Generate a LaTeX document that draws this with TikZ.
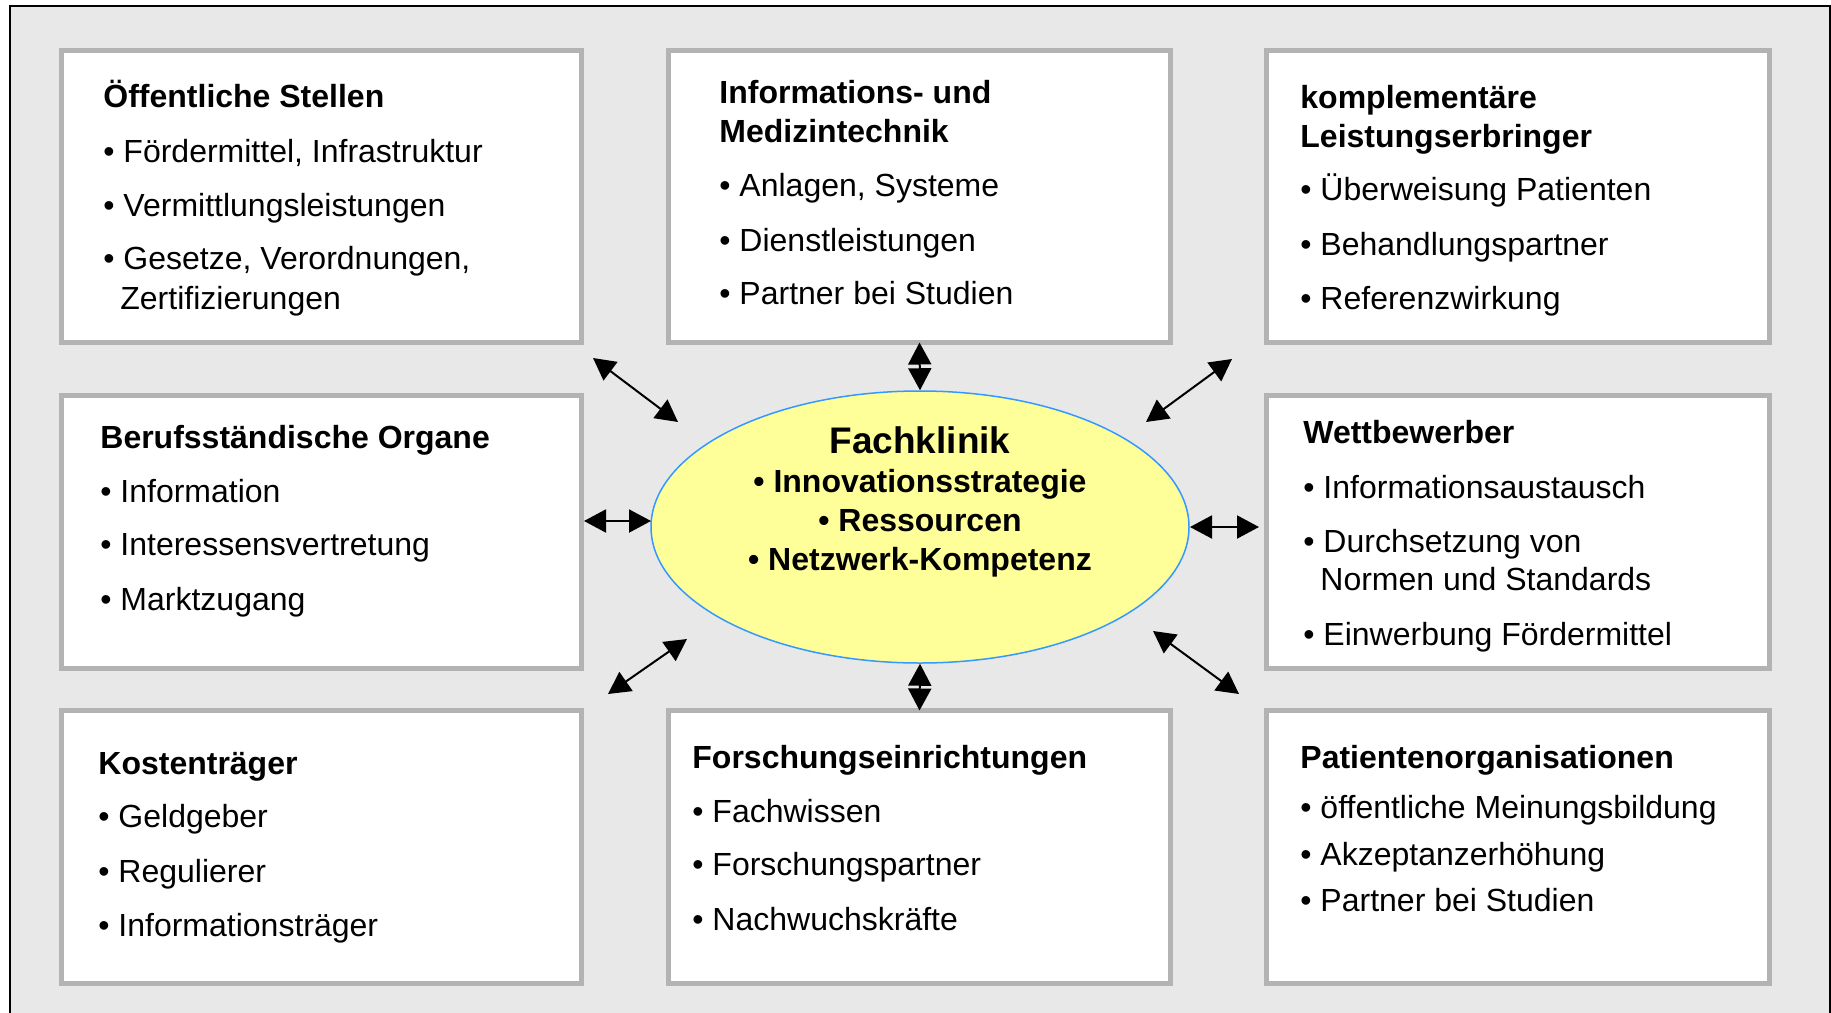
\documentclass[tikz,border=0pt]{standalone}
\usepackage{fontspec}
\setmainfont{Liberation Sans}
\usetikzlibrary{arrows.meta,shapes.geometric}
\definecolor{panel}{HTML}{E8E8E8}
\definecolor{boxrim}{HTML}{B3B3B3}
\definecolor{core}{HTML}{FFFF99}
\definecolor{corerim}{HTML}{3399FF}

\begin{document}
\begin{tikzpicture}[x=0.5pt,y=-0.5pt,
  panelbox/.style={rectangle, draw=boxrim, line width=2.5pt, fill=white, inner sep=0pt, outer sep=0pt},
  colL/.style={minimum width=260pt},
  colM/.style={minimum width=251pt},
  colR/.style={minimum width=251.5pt},
  rowT/.style={minimum height=146pt},
  rowO/.style={minimum height=136.5pt},
  head/.style={anchor=base west, inner sep=0pt, font=\bfseries\fontsize{16}{19}\selectfont},
  item/.style={anchor=base west, inner sep=0pt, font=\fontsize{16}{19}\selectfont},
  corehead/.style={anchor=base, inner sep=0pt, font=\bfseries\fontsize{18.5}{22}\selectfont},
  coreitem/.style={anchor=base, inner sep=0pt, font=\bfseries\fontsize{16}{19}\selectfont},
  link/.style={line width=1pt, {Triangle[length=11pt,width=11.5pt]}-{Triangle[length=11pt,width=11.5pt]}},
]
\useasboundingbox (0,0) rectangle (1831,1012);
\clip (0,0) rectangle (1831,1012);
\fill[white] (0,0) rectangle (1831,1012);
% outer panel
\draw[line width=1pt, fill=panel] (10,6) rectangle (1830,1040);

% partner boxes
\node[panelbox, colL, rowT] (oeff)  at (321.5,196.5) {};
\node[panelbox, colM, rowT] (tech)  at (919.5,196.5) {};
\node[panelbox, colR, rowT] (kompl) at (1518,196.5) {};
\node[panelbox, colL, rowO] (beruf) at (321.5,532) {};
\node[panelbox, colR, rowO] (wett)  at (1518,532) {};
\node[panelbox, colL, rowO] (kost)  at (321.5,847) {};
\node[panelbox, colM, rowO] (forsch) at (919.5,847) {};
\node[panelbox, colR, rowO] (pat)   at (1518,847) {};

% central clinic
\node[ellipse, draw=corerim, line width=0.75pt, fill=core, minimum width=269pt, minimum height=136pt, inner sep=0pt] (klinik) at (920,527) {};
\node[corehead] (k0) at (920,453) {Fachklinik};
\node[coreitem] (k1) at (920,492) {• Innovationsstrategie};
\node[coreitem] (k2) at (920,531) {• Ressourcen};
\node[coreitem] (k3) at (920,570) {• Netzwerk-Kompetenz};

% Öffentliche Stellen
\node[head] (oeff-h) at (103,107) {Öffentliche Stellen};
\node[item] (oeff-1) at (103,162) {• Fördermittel, Infrastruktur};
\node[item] (oeff-2) at (103,216) {• Vermittlungsleistungen};
\node[item] (oeff-3) at (103,269) {• Gesetze, Verordnungen,};
\node[item] (oeff-4) at (103,309) {\hspace*{8.5pt}Zertifizierungen};

% Informations- und Medizintechnik
\node[head] (tech-h1) at (719,103) {Informations- und};
\node[head] (tech-h2) at (719,142) {Medizintechnik};
\node[item] (tech-1) at (719,196) {• Anlagen, Systeme};
\node[item] (tech-2) at (719,251) {• Dienstleistungen};
\node[item] (tech-3) at (719,304) {• Partner bei Studien};

% komplementäre Leistungserbringer
\node[head] (kompl-h1) at (1300,108) {komplementäre};
\node[head] (kompl-h2) at (1300,147) {Leistungserbringer};
\node[item] (kompl-1) at (1300,200) {• Überweisung Patienten};
\node[item] (kompl-2) at (1300,255) {• Behandlungspartner};
\node[item] (kompl-3) at (1300,309) {• Referenzwirkung};

% Berufsständische Organe
\node[head] (beruf-h) at (100,448) {Berufsständische Organe};
\node[item] (beruf-1) at (100,502) {• Information};
\node[item] (beruf-2) at (100,555) {• Interessensvertretung};
\node[item] (beruf-3) at (100,610) {• Marktzugang};

% Wettbewerber
\node[head] (wett-h) at (1303,443) {Wettbewerber};
\node[item] (wett-1) at (1303,498) {• Informationsaustausch};
\node[item] (wett-2) at (1303,552) {• Durchsetzung von};
\node[item] (wett-3) at (1303,590) {\hspace*{8.5pt}Normen und Standards};
\node[item] (wett-4) at (1303,645) {• Einwerbung Fördermittel};

% Kostenträger
\node[head] (kost-h) at (98,774) {Kostenträger};
\node[item] (kost-1) at (98,827) {• Geldgeber};
\node[item] (kost-2) at (98,882) {• Regulierer};
\node[item] (kost-3) at (98,936) {• Informationsträger};

% Forschungseinrichtungen
\node[head] (forsch-h) at (692,768) {Forschungseinrichtungen};
\node[item] (forsch-1) at (692,822) {• Fachwissen};
\node[item] (forsch-2) at (692,875) {• Forschungspartner};
\node[item] (forsch-3) at (692,930) {• Nachwuchskräfte};

% Patientenorganisationen
\node[head] (pat-h) at (1300,768) {Patientenorganisationen};
\node[item] (pat-1) at (1300,818) {• öffentliche Meinungsbildung};
\node[item] (pat-2) at (1300,865) {• Akzeptanzerhöhung};
\node[item] (pat-3) at (1300,911) {• Partner bei Studien};

% free ends of the diagonal and side links
\coordinate (oeff-a)   at (593,358);
\coordinate (oeff-b)   at (678,422);
\coordinate (kompl-a)  at (1232,359);
\coordinate (kompl-b)  at (1146,422);
\coordinate (beruf-a)  at (584,521);
\coordinate (beruf-b)  at (651,521);
\coordinate (wett-a)   at (1190,527);
\coordinate (wett-b)   at (1259,527);
\coordinate (kost-a)   at (608,694);
\coordinate (kost-b)   at (687,639);
\coordinate (pat-a)    at (1239,694);
\coordinate (pat-b)    at (1153,631);

% links between the clinic and its partners
\draw[link] (oeff-a) -- (oeff-b);
\draw[link] (tech.south) -- (klinik.north);
\draw[link] (kompl-a) -- (kompl-b);
\draw[link] (beruf-a) -- (beruf-b);
\draw[link] (wett-a) -- (wett-b);
\draw[link] (kost-a) -- (kost-b);
\draw[link] (klinik.south) -- (forsch.north);
\draw[link] (pat-a) -- (pat-b);
\end{tikzpicture}
\end{document}
